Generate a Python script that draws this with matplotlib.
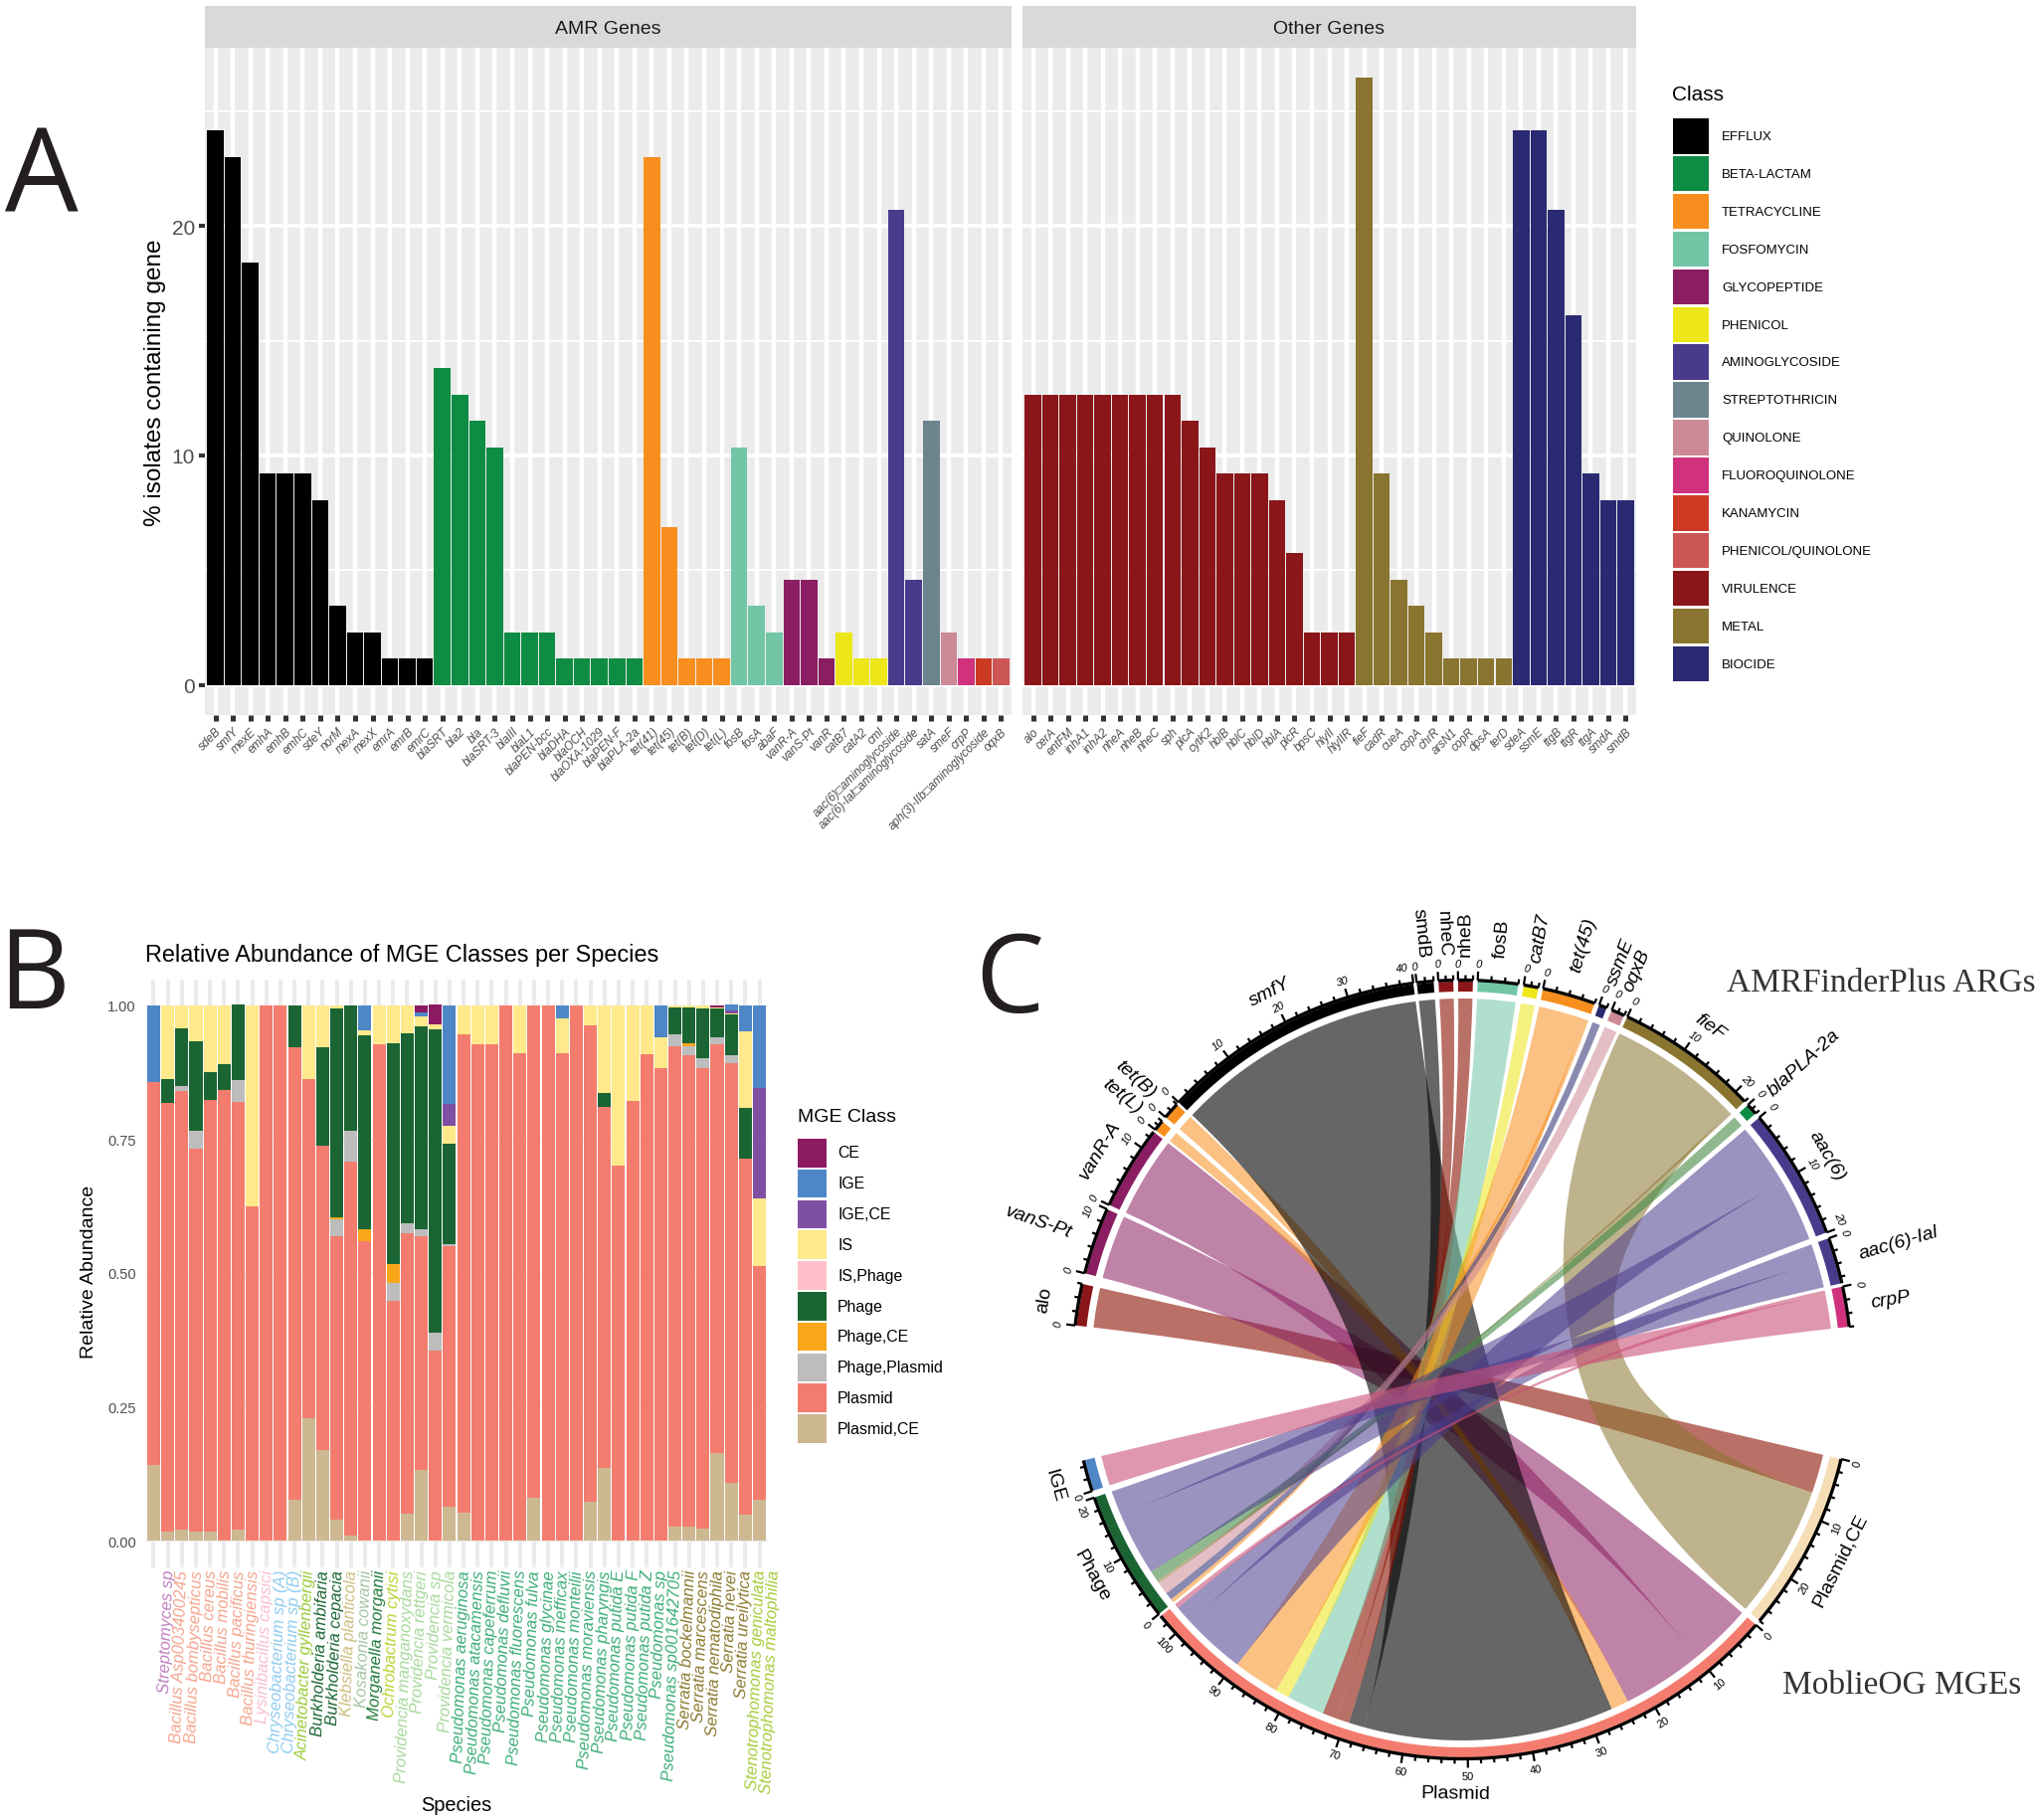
import numpy as np
import matplotlib
matplotlib.use('Agg')
import matplotlib.pyplot as plt
from matplotlib.patches import PathPatch, Polygon, Rectangle
from matplotlib.path import Path

W, H = 2051, 1831
plt.rcParams['font.family'] = ['Liberation Sans', 'DejaVu Sans']

# --- panel A data
amr_genes = ['sdeB', 'smfY', 'mexE', 'emhA', 'emhB', 'emhC', 'sdeY', 'norM', 'mexA', 'mexX', 'emrA', 'emrB', 'emrC',
             'blaSRT', 'bla2', 'bla', 'blaSRT-3', 'blaIII', 'blaL1', 'blaPEN-bcc', 'blaDHA', 'blaOCH', 'blaOXA-1029',
             'blaPEN-F', 'blaPLA-2a', 'tet(41)', 'tet(45)', 'tet(B)', 'tet(D)', 'tet(L)', 'fosB', 'fosA', 'abaF',
             'vanR-A', 'vanS-Pt', 'vanR', 'catB7', 'catA2', 'cml', 'aac(6)\u25a1aminoglycoside',
             'aac(6)-Ial\u25a1aminoglycoside', 'satA', 'smeF', 'crpP', 'aph(3)-IIb\u25a1aminoglycoside', 'oqxB']
amr_values = [24.15, 23.0, 18.4, 9.2, 9.2, 9.2, 8.05, 3.45, 2.3, 2.3, 1.15, 1.15, 1.15,
              13.8, 12.65, 11.5, 10.35, 2.3, 2.3, 2.3, 1.15, 1.15, 1.15, 1.15, 1.15,
              23.0, 6.9, 1.15, 1.15, 1.15, 10.35, 3.45, 2.3, 4.6, 4.6, 1.15, 2.3, 1.15, 1.15,
              20.7, 4.6, 11.5, 2.3, 1.15, 1.15, 1.15]
amr_class = ['EFFLUX'] * 13 + ['BETA-LACTAM'] * 12 + ['TETRACYCLINE'] * 5 + ['FOSFOMYCIN'] * 3 + \
            ['GLYCOPEPTIDE'] * 3 + ['PHENICOL'] * 3 + ['AMINOGLYCOSIDE'] * 2 + \
            ['STREPTOTHRICIN', 'QUINOLONE', 'FLUOROQUINOLONE', 'KANAMYCIN', 'PHENICOL/QUINOLONE']

other_genes = ['alo', 'cerA', 'entFM', 'inhA1', 'inhA2', 'nheA', 'nheB', 'nheC', 'sph', 'plcA', 'cytK2', 'hblB', 'hblC',
               'hblD', 'hblA', 'plcR', 'bpsC', 'hlyII', 'hlyIIR', 'fieF', 'cadR', 'cueA', 'copA', 'chrR', 'arsN1',
               'copR', 'dpsA', 'terD', 'sdeA', 'ssmE', 'ttgB', 'ttgR', 'ttgA', 'smdA', 'smdB']
other_values = [12.65, 12.65, 12.65, 12.65, 12.65, 12.65, 12.65, 12.65, 12.65, 11.5, 10.35, 9.2, 9.2, 9.2, 8.05, 5.75,
                2.3, 2.3, 2.3, 26.45, 9.2, 4.6, 3.45, 2.3, 1.15, 1.15, 1.15, 1.15,
                24.15, 24.15, 20.7, 16.1, 9.2, 8.05, 8.05]
other_class = ['VIRULENCE'] * 19 + ['METAL'] * 9 + ['BIOCIDE'] * 7

class_names = ['EFFLUX', 'BETA-LACTAM', 'TETRACYCLINE', 'FOSFOMYCIN', 'GLYCOPEPTIDE', 'PHENICOL', 'AMINOGLYCOSIDE',
               'STREPTOTHRICIN', 'QUINOLONE', 'FLUOROQUINOLONE', 'KANAMYCIN', 'PHENICOL/QUINOLONE', 'VIRULENCE',
               'METAL', 'BIOCIDE']
class_colors = ['#000000', '#0F8C44', '#F78E1E', '#72C6A6', '#8B1E62', '#EDE618', '#4A3A8C', '#6C848E', '#CC8A96',
                '#D1327E', '#CC3A24', '#CC5555', '#8B1619', '#8A7530', '#2A2A72']
class_color = dict(zip(class_names, class_colors))

# --- panel B data
species = ['Streptomyces sp', 'Bacillus Asp003400245', 'Bacillus bombysepticus', 'Bacillus cereus', 'Bacillus mobilis',
           'Bacillus pacificus', 'Bacillus thuringiensis', 'Lysinibacillus capsici', 'Chryseobacterium sp (A)',
           'Chryseobacterium sp (B)', 'Acinetobacter gyllenbergii', 'Burkholderia ambifaria', 'Burkholderia cepacia',
           'Klebsiella planticola', 'Kosakonia cowanii', 'Morganella morganii', 'Ochrobactrum cytisi',
           'Providencia manganoxydans', 'Providencia rettgeri', 'Providencia sp', 'Providencia vermicola',
           'Pseudomonas aeruginosa', 'Pseudomonas atacamensis', 'Pseudomonas capeferrum', 'Pseudomonas defluvii',
           'Pseudomonas fluorescens', 'Pseudomonas fulva', 'Pseudomonas glycinae', 'Pseudomonas inefficax',
           'Pseudomonas monteilii', 'Pseudomonas moraviensis', 'Pseudomonas pharyngis', 'Pseudomonas putida E',
           'Pseudomonas putida F', 'Pseudomonas putida Z', 'Pseudomonas sp', 'Pseudomonas sp001642705',
           'Serratia bockelmannii', 'Serratia marcescens', 'Serratia nematodiphila', 'Serratia nevei',
           'Serratia ureilytica', 'Stenotrophomonas geniculata', 'Stenotrophomonas maltophilia']
genus_colors = {'Streptomyces': '#C07FC0', 'Bacillus': '#F5A58F', 'Lysinibacillus': '#F9BFCF',
                'Chryseobacterium': '#8FCBEF', 'Acinetobacter': '#9BCB3C', 'Burkholderia': '#1A6533',
                'Klebsiella': '#CDBE7F', 'Kosakonia': '#A5C5A5', 'Morganella': '#1F7A3A', 'Ochrobactrum': '#B8D432',
                'Providencia': '#A8D99C', 'Pseudomonas': '#3DAE78', 'Serratia': '#8C7A30',
                'Stenotrophomonas': '#A8CC3C'}

ce = [0, 0, 0, 0, 0, 0, 0, 0, 0, 0,
      0, 0, 0, 0, 0, 0, 0, 0, 0, .014,
      .036, 0, 0, 0, 0, 0, 0, 0, 0, 0,
      0, 0, 0, 0, 0, 0, 0, 0, 0, 0,
      .004, 0, 0, 0]
ige = [.144, 0, 0, 0, 0, 0, 0, 0, 0, 0,
       0, 0, 0, 0, 0, .046, 0, 0, 0, .007,
       0, .185, 0, 0, 0, 0, 0, 0, 0, .024,
       0, 0, 0, 0, 0, 0, .060, 0, 0, 0,
       0, .011, .049, .154]
ige_ce = [0, 0, 0, 0, 0, 0, 0, 0, 0, 0,
          0, 0, 0, 0, 0, 0, 0, 0, 0, 0,
          0, .041, 0, 0, 0, 0, 0, 0, 0, 0,
          0, 0, 0, 0, 0, 0, 0, 0, 0, 0,
          0, .005, 0, .206]
is_el = [0, .137, .043, .068, .124, .110, 0, .376, 0, 0,
         0, .137, .078, .005, 0, .010, .073, .070, .052, .019,
         .010, .033, .054, .073, .073, 0, .090, 0, 0, .065,
         0, .037, .163, .299, .179, .092, .058, .004, .003, .006,
         .002, .002, .142, .127]
is_phage = [0, 0, 0, 0, 0, 0, 0, 0, 0, 0,
            0, 0, 0, 0, 0, 0, 0, 0, 0, 0,
            0, 0, 0, 0, 0, 0, 0, 0, 0, 0,
            0, 0, 0, 0, 0, 0, 0, 0, 0, 0,
            0, 0, 0, 0]
phage = [0, .046, .108, .167, .053, .048, .141, 0, 0, 0,
         .078, 0, .184, .391, .234, .362, 0, .414, .356, .379,
         .567, .187, 0, 0, 0, 0, 0, 0, 0, 0,
         0, 0, .027, 0, 0, 0, 0, .051, .067, .092,
         .054, .077, .095, 0]
phage_ce = [0, 0, 0, 0, 0, 0, 0, 0, 0, 0,
            0, 0, 0, .003, 0, .022, 0, .035, 0, 0,
            0, 0, 0, 0, 0, 0, 0, 0, 0, 0,
            0, 0, 0, 0, 0, 0, 0, 0, .006, 0,
            0, 0, 0, 0]
phage_plasmid = [0, 0, .010, .033, 0, 0, .040, 0, 0, 0,
                 0, 0, 0, .032, .058, 0, 0, .034, .017, .012,
                 .033, .004, 0, 0, 0, 0, 0, 0, 0, 0,
                 0, 0, 0, 0, 0, 0, 0, .021, .016, .020,
                 .013, .014, 0, 0]
plasmid = [.714, .801, .818, .715, .806, .842, .799, .624, 1, 1,
           .845, .635, .569, .530, .698, .560, .927, .447, .524, .436,
           .355, .487, .893, .927, .927, 1, .910, .920, 1, .911,
           1, .890, .675, .701, .821, .908, .882, .898, .880, .859,
           .763, .785, .666, .436]
plasmid_ce = [.142, .016, .021, .017, .017, 0, .021, 0, 0, 0,
              .077, .228, .169, .039, .010, 0, 0, 0, .051, .133,
              0, .063, .053, 0, 0, 0, 0, .080, 0, 0,
              0, .073, .135, 0, 0, 0, 0, .026, .027, .023,
              .164, .107, .048, .077]
mge_names = ['CE', 'IGE', 'IGE,CE', 'IS', 'IS,Phage', 'Phage', 'Phage,CE', 'Phage,Plasmid', 'Plasmid', 'Plasmid,CE']
mge_colors = ['#8B1A62', '#4F86C6', '#7F4FA3', '#FFE98A', '#FFC0CB', '#1A6533', '#F9A61A', '#BDBDBD', '#F47C6E',
              '#CDB892']
mge_series = [ce, ige, ige_ce, is_el, is_phage, phage, phage_ce, phage_plasmid, plasmid, plasmid_ce]

# --- panel C data
sector_names = ['alo', 'vanS-Pt', 'vanR-A', 'tet(L)', 'tet(B)', 'smfY', 'smdB', 'nheC', 'nheB', 'fosB', 'catB7',
                'tet(45)', 'ssmE', 'oqxB', 'fieF', 'blaPLA-2a', 'aac(6)', 'aac(6)-Ial', 'crpP',
                'Plasmid,CE', 'Plasmid', 'Phage', 'IGE']
sector_class = ['VIRULENCE', 'GLYCOPEPTIDE', 'GLYCOPEPTIDE', 'TETRACYCLINE', 'TETRACYCLINE', 'EFFLUX', 'EFFLUX',
                'VIRULENCE', 'VIRULENCE', 'FOSFOMYCIN', 'PHENICOL', 'TETRACYCLINE', 'BIOCIDE', 'QUINOLONE',
                'METAL', 'BETA-LACTAM', 'AMINOGLYCOSIDE', 'AMINOGLYCOSIDE', 'FLUOROQUINOLONE']
sector_units = [6, 10, 13, 2, 2, 40, 2, 2, 2, 6, 2, 8, 1, 2, 22, 2, 20, 7, 6, 28, 103.5, 20, 5]
# clockwise start and end of every sector, degrees
sector_start = [173.5, 165.7, 155.0, 142.0, 139.6, 136.7, 96.7, 93.5, 90.6, 87.7, 80.9, 78.0, 69.4, 67.4, 64.9, 42.8,
                40.3, 19.7, 12.3, -13.3, -41.0, -141.1, -161.8]
sector_end = [167.3, 155.7, 142.4, 140.4, 137.1, 97.2, 94.2, 91.3, 88.4, 81.7, 78.7, 70.1, 68.2, 65.4, 43.5, 41.1,
              20.6, 12.8, 6.3, -40.2, -140.7, -160.8, -166.5]
tangent_labels = ['alo', 'vanR-A', 'smfY', 'fieF', 'aac(6)', 'Plasmid,CE', 'Plasmid', 'Phage', 'IGE']
upright_labels = ['alo', 'smdB', 'nheC', 'nheB', 'fosB']
mge_ring_colors = {'Plasmid,CE': '#F5DDB5', 'Plasmid': '#F47C6E', 'Phage': '#1A6533', 'IGE': '#4F86C6'}
# ribbons of these classes came out in another tint than their ring
ribbon_colors = {'VIRULENCE': '#8B1100', 'FLUOROQUINOLONE': '#CB5278', 'BETA-LACTAM': '#448A44'}

link_gene = ['alo', 'vanS-Pt', 'vanR-A', 'tet(L)', 'tet(B)', 'smfY', 'smdB', 'nheC', 'nheB', 'fosB', 'catB7',
             'tet(45)', 'tet(45)', 'ssmE', 'oqxB', 'fieF', 'fieF', 'blaPLA-2a', 'aac(6)', 'aac(6)', 'aac(6)-Ial',
             'aac(6)-Ial', 'crpP', 'crpP']
link_mge = ['Plasmid,CE', 'Plasmid', 'Plasmid', 'Plasmid', 'Plasmid', 'Plasmid', 'Plasmid', 'Plasmid', 'Plasmid',
            'Plasmid', 'Plasmid', 'Plasmid', 'Phage', 'Phage', 'Phage', 'Plasmid,CE', 'Phage', 'Phage', 'Plasmid',
            'Phage', 'Plasmid', 'Phage', 'Plasmid', 'IGE']
link_value = [6.3, 10, 13, 1.4, 1.4, 40, 2.5, 2.2, 2.2, 6, 2.2, 7.4, 0.6, 1.2, 2, 21.6, 0.4, 1.7, 10, 10, 3, 4, 0.7,
              5.3]


def px_axes(left, top, right, bottom):
    return fig.add_axes([left / W, 1 - bottom / H, (right - left) / W, (bottom - top) / H])


fig = plt.figure(figsize=(W / 100, H / 100), dpi=100, facecolor='white')

# overlay in pixel coordinates, for the legends, letters and chord diagram
ov = fig.add_axes([0, 0, 1, 1], zorder=5)
ov.set_xlim(0, W)
ov.set_ylim(H, 0)
ov.axis('off')
ov.patch.set_alpha(0)

# ---------- panel A
for left, right, genes, values, classes, title in [(206, 1017, amr_genes, amr_values, amr_class, 'AMR Genes'),
                                                   (1028, 1645, other_genes, other_values, other_class, 'Other Genes')]:
    ax = px_axes(left, 49, right, 720)
    ax.set_facecolor('#EBEBEB')
    x = np.arange(len(genes))
    ax.bar(x, values, width=0.94, color=[class_color[c] for c in classes], zorder=3, linewidth=0)
    ax.set_xlim(-0.6, len(genes) - 0.4)
    ax.set_ylim(-1.3, 27.75)
    for s in ax.spines.values():
        s.set_visible(False)
    ax.set_yticks([0, 10, 20])
    ax.set_yticks([5, 15, 25], minor=True)
    ax.set_xticks(x)
    ax.grid(True, which='major', axis='y', color='white', lw=2.6, zorder=1)
    ax.grid(True, which='minor', axis='y', color='white', lw=1.3, zorder=1)
    ax.grid(True, which='major', axis='x', color='white', lw=3.2, zorder=1)
    ax.tick_params(axis='y', which='minor', length=0)
    ax.tick_params(axis='y', which='major', length=4.3, width=2.9, color='#333333', labelsize=15,
                   labelcolor='#4D4D4D', pad=3)
    ax.tick_params(axis='x', length=4.3, width=3.6, color='#333333', pad=3)
    ax.set_xticklabels(genes, rotation=45, ha='right', va='top', rotation_mode='anchor', style='italic',
                       fontsize=8.5, color='#4D4D4D')
    if left != 206:
        ax.tick_params(axis='y', which='major', left=False, labelleft=False)
    else:
        ax.set_ylabel('% isolates containing gene', fontsize=17.5, labelpad=4)
    ov.add_patch(Rectangle((left, 7), right - left, 42, color='#D9D9D9', lw=0))
    ov.text((left + right) / 2, 29, title, fontsize=14, color='#1A1A1A', ha='center', va='center')

ov.text(1681, 95, 'Class', fontsize=15, ha='left', va='center')
for i, (name, col) in enumerate(zip(class_names, class_colors)):
    ov.add_patch(Rectangle((1682, 120 + i * 37.9), 36, 35.5, color=col, lw=0))
    ov.text(1731, 138 + i * 37.9, name, fontsize=9.5, ha='left', va='center')

# ---------- panel B
ax = px_axes(146, 986, 772, 1577)
x = np.arange(len(species))
ax.set_xlim(-0.6, len(species) - 0.4)
ax.set_ylim(-0.05, 1.048)
for s in ax.spines.values():
    s.set_visible(False)
ax.set_xticks(x)
ax.set_yticks([0, .25, .5, .75, 1])
ax.set_yticklabels(['0.00', '0.25', '0.50', '0.75', '1.00'], fontsize=10.5, color='#4D4D4D')
ax.grid(True, axis='x', color='#EBEBEB', lw=2.9, zorder=1)
ax.grid(True, axis='y', color='#EBEBEB', lw=1, zorder=1)
ax.tick_params(length=0, pad=6.5)
ax.set_xticklabels([])
bottom = np.zeros(len(species))
for name, col, vals in reversed(list(zip(mge_names, mge_colors, mge_series))):
    ax.bar(x, vals, bottom=bottom, width=0.92, color=col, zorder=3, linewidth=0)
    bottom = bottom + np.array(vals)
for i, name in enumerate(species):
    ax.annotate(name, xy=(i, 0), xycoords=ax.get_xaxis_transform(), xytext=(11, -1.5), textcoords='offset points',
                rotation=88, ha='right', va='center', rotation_mode='anchor', style='italic', fontsize=12,
                color=genus_colors[name.split()[0]])

ov.text(146, 961, 'Relative Abundance of MGE Classes per Species', fontsize=16.9, ha='left', va='center')
ov.text(89, 1279, 'Relative Abundance', fontsize=14, rotation=90, ha='center', va='center')
ov.text(459, 1816, 'Species', fontsize=14.4, ha='center', va='center')
ov.text(802, 1124, 'MGE Class', fontsize=14, ha='left', va='center')
for i, (name, col) in enumerate(zip(mge_names, mge_colors)):
    ov.add_patch(Rectangle((802, 1146 + i * 30.8), 29, 28.5, color=col, lw=0))
    ov.text(842, 1160 + i * 30.8, name, fontsize=11.4, ha='left', va='center')

# ---------- panel C
cx, cy = 1470, 1378
R_chord, R_in, R_out, R_axis = 373, 380, 390, 391.5


def pol(r, deg):
    a = np.radians(deg)
    return np.column_stack([cx + r * np.cos(a), cy - r * np.sin(a)])


def tangent_rot(deg):
    return deg - 90 if np.sin(np.radians(deg)) >= 0 else deg + 90


start = dict(zip(sector_names, sector_start))
end = dict(zip(sector_names, sector_end))
totals = {n: 0.0 for n in sector_names}
for g, m, v in zip(link_gene, link_mge, link_value):
    totals[g] += v
    totals[m] += v
cursor = dict(start)
for g, m, v, in zip(link_gene, link_mge, link_value):
    g0 = cursor[g]
    g1 = g0 + v * (end[g] - start[g]) / totals[g]
    m0 = cursor[m]
    m1 = m0 + v * (end[m] - start[m]) / totals[m]
    cursor[g], cursor[m] = g1, m1
    arc_a = pol(R_chord, np.linspace(g0, g1, 30))
    arc_b = pol(R_chord, np.linspace(m0, m1, 30))
    verts = list(arc_a) + [(cx, cy)] + list(arc_b) + [(cx, cy), arc_a[0], arc_a[0]]
    codes = [Path.MOVETO] + [Path.LINETO] * 29 + [Path.CURVE3, Path.CURVE3] + [Path.LINETO] * 29 + \
            [Path.CURVE3, Path.CURVE3, Path.CLOSEPOLY]
    cls = sector_class[sector_names.index(g)]
    if cls in ribbon_colors:
        fc, al = ribbon_colors[cls], 0.6
    else:
        fc, al = class_color[cls], 0.6 if cls == 'EFFLUX' else 0.55
    ov.add_patch(PathPatch(Path(verts, codes), facecolor=fc, edgecolor='none', alpha=al, zorder=2))

for i, name in enumerate(sector_names):
    a0, a1 = sector_start[i], sector_end[i]
    units = sector_units[i]
    is_gene = i < len(sector_class)
    col = class_color[sector_class[i]] if is_gene else mge_ring_colors[name]
    ang = np.linspace(a0, a1, 60)
    ov.add_patch(Polygon(np.vstack([pol(R_in, ang), pol(R_out, ang[::-1])]), facecolor=col, edgecolor='none', zorder=3))
    ov.plot(*pol(R_axis, ang).T, color='black', lw=2.4, zorder=4, solid_capstyle='butt')
    style = 'italic' if is_gene else 'normal'
    step = 2 if units > 2 else 1
    for v in np.arange(0, units + 0.01, step):
        t = a0 + (a1 - a0) * v / units
        major = v % 10 == 0
        seg = np.vstack([pol(R_axis, t), pol(R_axis + (9 if major else 5), t)])
        ov.plot(seg[:, 0], seg[:, 1], color='black', lw=1.6, zorder=4, solid_capstyle='butt')
        if major:
            # the last label of a sector is pulled back so it clears the next sector's 0
            t_lab = t + 1.3 if (v > 0 and v + step > units) else t
            p = pol(R_axis + 17, t_lab)[0]
            ov.text(p[0], p[1], '%d' % v, fontsize=8, style=style, ha='center', va='center',
                    rotation=tangent_rot(t_lab), rotation_mode='anchor', zorder=4)
    mid = (a0 + a1) / 2
    name_style = 'normal' if name in upright_labels else style
    if name in tangent_labels:
        p = pol(426, mid)[0]
        ov.text(p[0], p[1], name, fontsize=14, style=name_style, ha='center', va='center', rotation=tangent_rot(mid),
                rotation_mode='anchor', zorder=4)
    else:
        p = pol(416, mid)[0]
        right = np.cos(np.radians(mid)) >= 0
        ov.text(p[0], p[1], name, fontsize=14, style=name_style, ha='left' if right else 'right', va='center',
                rotation=mid if right else mid - 180, rotation_mode='anchor', zorder=4)

ov.text(1736, 989, 'AMRFinderPlus ARGs', family='Liberation Serif', fontsize=24, color='#333333', ha='left',
        va='center')
ov.text(1792, 1695, 'MoblieOG MGEs', family='Liberation Serif', fontsize=24, color='#333333', ha='left', va='center')

# panel letters
letter_x = [5, -2, 980]
letter_y = [213, 1014, 1018]
letter_size = [84, 80, 79]
for letter, lx, ly, ls in zip('ABC', letter_x, letter_y, letter_size):
    ov.text(lx, ly, letter, family='Open Sans', fontsize=ls, color='#231F20', ha='left', va='baseline')

fig.savefig('out.png', dpi=100)
